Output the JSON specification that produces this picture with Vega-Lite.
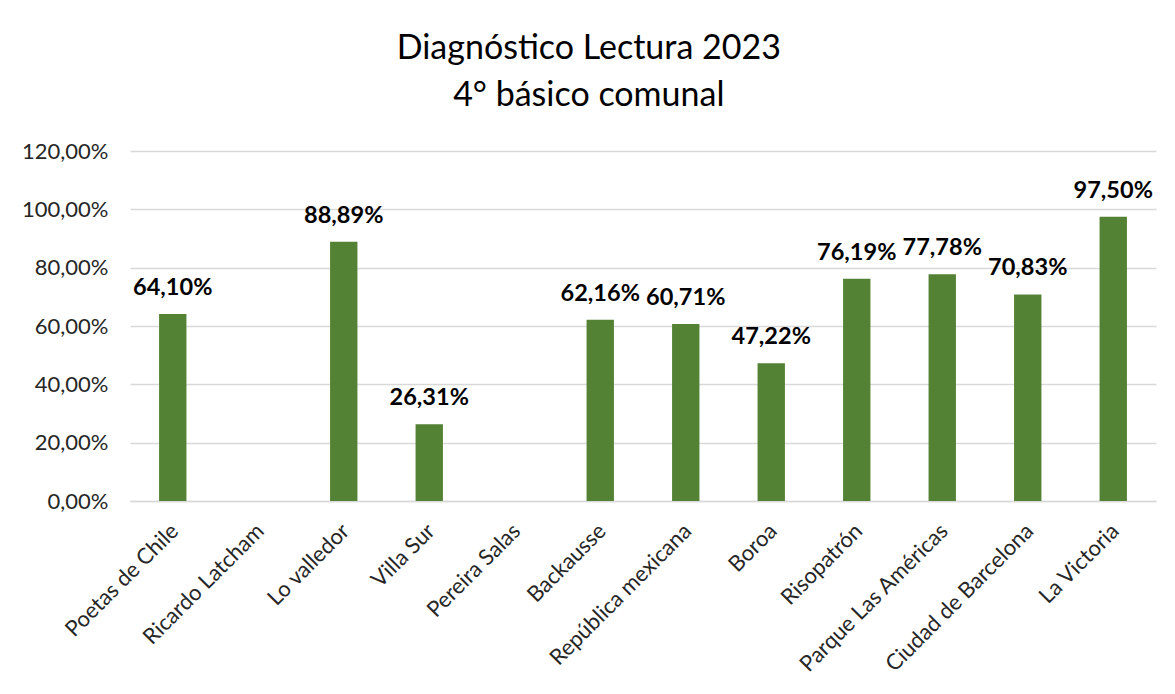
{
  "$schema": "https://vega.github.io/schema/vega-lite/v6.json",
  "width": 1026,
  "height": 350,
  "autosize": "none",
  "padding": {"left": 130, "top": 151, "right": 19, "bottom": 193},
  "background": "white",
  "config": {
    "locale": {"number": {"decimal": ",", "thousands": ".", "grouping": [3], "currency": ["$", ""]}},
    "view": {"stroke": null},
    "font": "Lato"
  },
  "title": {
    "text": ["Diagnóstico Lectura 2023", "4° básico comunal"],
    "font": "Lato",
    "fontSize": 34,
    "fontWeight": "normal",
    "color": "#000000",
    "lineHeight": 47,
    "anchor": "middle",
    "frame": "bounds",
    "offset": 27
  },
  "data": {
    "values": [
      {"escuela": "Poetas de Chile", "valor": 0.641},
      {"escuela": "Ricardo Latcham", "valor": null},
      {"escuela": "Lo valledor", "valor": 0.8889},
      {"escuela": "Villa Sur", "valor": 0.2631},
      {"escuela": "Pereira Salas", "valor": null},
      {"escuela": "Backausse", "valor": 0.6216},
      {"escuela": "República mexicana", "valor": 0.6071},
      {"escuela": "Boroa", "valor": 0.4722},
      {"escuela": "Risopatrón", "valor": 0.7619},
      {"escuela": "Parque Las Américas", "valor": 0.7778},
      {"escuela": "Ciudad de Barcelona", "valor": 0.7083},
      {"escuela": "La Victoria", "valor": 0.975}
    ]
  },
  "encoding": {
    "x": {
      "field": "escuela",
      "type": "nominal",
      "sort": null,
      "scale": {
        "domain": ["Poetas de Chile", "Ricardo Latcham", "Lo valledor", "Villa Sur", "Pereira Salas", "Backausse", "República mexicana", "Boroa", "Risopatrón", "Parque Las Américas", "Ciudad de Barcelona", "La Victoria"],
        "paddingInner": 0.68,
        "paddingOuter": 0.34
      },
      "axis": {
        "title": null,
        "labelAngle": -45,
        "labelFont": "Lato",
        "labelFontSize": 22,
        "labelColor": "#262626",
        "labelPadding": 19,
        "labelOffset": -5,
        "ticks": false,
        "domainColor": "#d9d9d9",
        "domainWidth": 1.5,
        "labelLimit": 400
      }
    },
    "y": {
      "field": "valor",
      "type": "quantitative",
      "scale": {"domain": [0, 1.2], "nice": false},
      "axis": {
        "title": null,
        "format": ".2%",
        "values": [0, 0.2, 0.4, 0.6, 0.8, 1.0, 1.2],
        "labelFont": "Lato",
        "labelFontSize": 22,
        "labelColor": "#262626",
        "labelPadding": 22,
        "ticks": false,
        "domain": false,
        "gridColor": "#d9d9d9",
        "gridWidth": 1.5
      }
    }
  },
  "layer": [
    {"mark": {"type": "bar", "color": "#548235"}},
    {
      "mark": {"type": "text", "font": "Lato", "fontSize": 23.5, "fontWeight": "bold", "color": "#000000", "baseline": "alphabetic", "dy": -19},
      "encoding": {"text": {"field": "valor", "type": "quantitative", "format": ".2%"}}
    }
  ]
}
